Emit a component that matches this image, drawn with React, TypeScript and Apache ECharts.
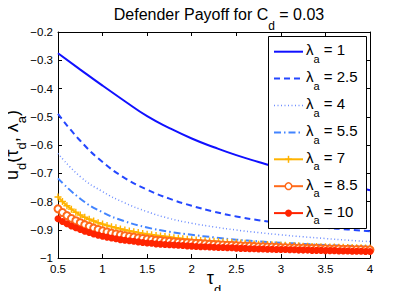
import React, { useEffect, useRef } from "react";
import * as echarts from "echarts";

const tauCoarse = [0.5, 0.75, 1.0, 1.25, 1.5, 1.75, 2.0, 2.25, 2.5, 2.75, 3.0, 3.25, 3.5, 3.75, 4.0];

const lambda1 = [-0.275, -0.333, -0.39, -0.445, -0.498, -0.54, -0.577, -0.608, -0.636, -0.66, -0.683, -0.703, -0.722, -0.741, -0.76];
const lambda25 = [-0.49, -0.585, -0.66, -0.717, -0.758, -0.79, -0.815, -0.836, -0.853, -0.866, -0.877, -0.886, -0.893, -0.899, -0.905];
const lambda4 = [-0.63, -0.712, -0.765, -0.805, -0.836, -0.86, -0.877, -0.89, -0.901, -0.91, -0.918, -0.925, -0.931, -0.937, -0.942];
const lambda55 = [-0.718, -0.79, -0.838, -0.87, -0.892, -0.907, -0.918, -0.927, -0.935, -0.941, -0.946, -0.95, -0.954, -0.957, -0.96];

const tauFine = [
  0.5, 0.55, 0.6, 0.65, 0.7, 0.75, 0.8, 0.85, 0.9, 0.95,
  1.0, 1.05, 1.1, 1.15, 1.2, 1.25, 1.3, 1.35, 1.4, 1.45,
  1.5, 1.55, 1.6, 1.65, 1.7, 1.75, 1.8, 1.85, 1.9, 1.95,
  2.0, 2.05, 2.1, 2.15, 2.2, 2.25, 2.3, 2.35, 2.4, 2.45,
  2.5, 2.55, 2.6, 2.65, 2.7, 2.75, 2.8, 2.85, 2.9, 2.95,
  3.0, 3.05, 3.1, 3.15, 3.2, 3.25, 3.3, 3.35, 3.4, 3.45,
  3.5, 3.55, 3.6, 3.65, 3.7, 3.75, 3.8, 3.85, 3.9, 3.95,
  4.0,
];

const lambda7 = [
  -0.784, -0.8, -0.815, -0.827, -0.838, -0.848, -0.856, -0.863, -0.869, -0.875,
  -0.88, -0.885, -0.889, -0.893, -0.897, -0.901, -0.904, -0.907, -0.91, -0.913,
  -0.916, -0.918, -0.92, -0.922, -0.924, -0.926, -0.928, -0.93, -0.932, -0.934,
  -0.935, -0.936, -0.938, -0.939, -0.94, -0.941, -0.942, -0.943, -0.944, -0.945,
  -0.946, -0.947, -0.948, -0.949, -0.95, -0.951, -0.951, -0.952, -0.953, -0.954,
  -0.955, -0.955, -0.956, -0.957, -0.957, -0.958, -0.958, -0.959, -0.959, -0.96,
  -0.96, -0.961, -0.961, -0.962, -0.962, -0.963, -0.963, -0.964, -0.964, -0.965,
  -0.965,
];

const lambda85 = [
  -0.826, -0.839, -0.85, -0.86, -0.868, -0.875, -0.882, -0.888, -0.894, -0.899,
  -0.904, -0.908, -0.912, -0.915, -0.918, -0.921, -0.924, -0.926, -0.929, -0.931,
  -0.933, -0.935, -0.937, -0.938, -0.94, -0.941, -0.943, -0.944, -0.945, -0.946,
  -0.947, -0.948, -0.949, -0.95, -0.951, -0.952, -0.953, -0.954, -0.955, -0.955,
  -0.956, -0.957, -0.958, -0.958, -0.959, -0.96, -0.96, -0.961, -0.961, -0.962,
  -0.963, -0.963, -0.964, -0.964, -0.965, -0.965, -0.966, -0.966, -0.966, -0.967,
  -0.967, -0.968, -0.968, -0.968, -0.969, -0.969, -0.97, -0.97, -0.97, -0.971,
  -0.971,
];

const lambda10 = [
  -0.861, -0.871, -0.879, -0.887, -0.893, -0.899, -0.905, -0.91, -0.915, -0.919,
  -0.923, -0.926, -0.929, -0.932, -0.935, -0.937, -0.939, -0.941, -0.943, -0.945,
  -0.947, -0.948, -0.95, -0.951, -0.952, -0.953, -0.954, -0.955, -0.956, -0.957,
  -0.958, -0.959, -0.96, -0.96, -0.961, -0.962, -0.963, -0.963, -0.964, -0.964,
  -0.965, -0.966, -0.966, -0.967, -0.967, -0.968, -0.968, -0.969, -0.969, -0.97,
  -0.97, -0.97, -0.971, -0.971, -0.972, -0.972, -0.972, -0.973, -0.973, -0.973,
  -0.974, -0.974, -0.974, -0.975, -0.975, -0.975, -0.976, -0.976, -0.976, -0.977,
  -0.977,
];

const lambdaLabels = ["1", "2.5", "4", "5.5", "7", "8.5", "10"];

const FONT = "Liberation Sans, Arial, Helvetica, sans-serif";

export default function App() {
  const ref = useRef<HTMLDivElement>(null);

  useEffect(() => {
    if (!ref.current) return;
    const chart = echarts.init(ref.current, undefined, { renderer: "svg" });

    const pair = (xs: number[], ys: number[]) => xs.map((x, i) => [x, ys[i]]);
    const plusPath = "path://M4,0h2v4h4v2h-4v4h-2v-4h-4v-2h4z";

    const colors = ["#1010ff", "#2447ff", "#6d8dff", "#4284ff", "#ffb300", "#ff6a1a", "#ff2400"];
    const widths = [2, 2, 1.5, 2, 2, 2, 2];
    const dashes: any[] = [null, [6, 4], [1, 2.5], [7, 3, 1.5, 3], null, null, null];
    const markers = ["none", "none", "none", "none", "plus", "ring", "dot"];

    const lineBase = { type: "line", smooth: true, symbol: "none", showSymbol: false };

    const series: any[] = [
      { ...lineBase, name: "λ1", data: pair(tauCoarse, lambda1) },
      { ...lineBase, name: "λ2.5", data: pair(tauCoarse, lambda25) },
      { ...lineBase, name: "λ4", data: pair(tauCoarse, lambda4) },
      { ...lineBase, name: "λ5.5", data: pair(tauCoarse, lambda55) },
      { type: "line", name: "λ7", data: pair(tauFine, lambda7), symbol: plusPath, symbolSize: 7, showSymbol: true, itemStyle: { color: colors[4] } },
      { type: "line", name: "λ8.5", data: pair(tauFine, lambda85), symbol: "emptyCircle", symbolSize: 7, showSymbol: true, itemStyle: { color: colors[5], borderColor: colors[5], borderWidth: 1.5 } },
      { type: "line", name: "λ10", data: pair(tauFine, lambda10), symbol: "circle", symbolSize: 7, showSymbol: true, itemStyle: { color: colors[6] } },
    ];
    series.forEach((s, i) => {
      s.lineStyle = { color: colors[i], width: widths[i], type: dashes[i] || "solid" };
      if (!s.itemStyle) s.itemStyle = { color: colors[i] };
    });

    const mainTok = (size: number, lh: number) => ({
      fontFamily: FONT, fontSize: size, fontWeight: "normal", color: "#000", lineHeight: lh, verticalAlign: "top",
    });
    const subTok = (size: number, drop: number) => ({
      fontFamily: FONT, fontSize: size, fontWeight: "normal", color: "#000", lineHeight: 1, padding: [drop, 0, 0, 0], verticalAlign: "top",
    });

    // legend drawn as graphic
    const lgLeft = 268, lgTop = 36, lgW = 99, lgH = 193;
    const row0 = 51.7, rowStep = 26.9;
    const legendEls: any[] = [
      { type: "rect", shape: { x: lgLeft + 0.5, y: lgTop + 0.5, width: lgW - 1, height: lgH - 1 }, style: { fill: "#fff", stroke: "#000", lineWidth: 1 }, z: 100 },
    ];
    lambdaLabels.forEach((lab, i) => {
      const yc = row0 + i * rowStep;
      legendEls.push({
        type: "line", shape: { x1: 274, y1: yc, x2: 303, y2: yc },
        style: { stroke: colors[i], lineWidth: widths[i], lineDash: dashes[i] || null }, z: 101,
      });
      const mx = 288.5;
      if (markers[i] === "plus") {
        legendEls.push({ type: "line", shape: { x1: mx - 3.5, y1: yc, x2: mx + 3.5, y2: yc }, style: { stroke: colors[i], lineWidth: 1.5 }, z: 102 });
        legendEls.push({ type: "line", shape: { x1: mx, y1: yc - 3.5, x2: mx, y2: yc + 3.5 }, style: { stroke: colors[i], lineWidth: 1.5 }, z: 102 });
      } else if (markers[i] === "ring") {
        legendEls.push({ type: "circle", shape: { cx: mx, cy: yc, r: 3.3 }, style: { fill: "#fff", stroke: colors[i], lineWidth: 1.5 }, z: 102 });
      } else if (markers[i] === "dot") {
        legendEls.push({ type: "circle", shape: { cx: mx, cy: yc, r: 3.5 }, style: { fill: colors[i] }, z: 102 });
      }
      legendEls.push({
        type: "text", x: 306, y: yc - 9.4, z: 102,
        style: {
          text: `{l|λ}{s|a}{l| = ${lab}}`,
          verticalAlign: "top",
          align: "left",
          rich: { l: mainTok(15, 17.4), s: subTok(11, 11) },
        },
      });
    });

    const axisCommon = {
      axisLine: { show: true, lineStyle: { color: "#000", width: 1 } },
      axisTick: { show: true, inside: true, length: 4, lineStyle: { color: "#000" } },
      splitLine: { show: false },
    };

    chart.setOption({
      animation: false,
      backgroundColor: "#fff",
      title: {
        text: "{t|Defender Payoff for C}{s|d}{t| = 0.03}",
        left: 214,
        top: 1,
        textAlign: "center",
        textStyle: {
          fontWeight: "normal",
          rich: { t: mainTok(16, 18), s: subTok(12, 14) },
        },
      },
      grid: { left: 58, right: 39, top: 32, bottom: 41, containLabel: false, outerBoundsMode: "none" },
      xAxis: [
        {
          type: "value", min: 0.5, max: 4, interval: 0.5, ...axisCommon,
          axisLabel: { color: "#000", fontFamily: FONT, fontSize: 11.5, margin: 5 },
          name: "{a|τ}{b|d}",
          nameLocation: "middle",
          nameGap: 11,
          nameMoveOverlap: false,
          nameTextStyle: { rich: { a: mainTok(18, 20), b: subTok(13, 14.3) } },
        },
        {
          type: "value", min: 0.5, max: 4, interval: 0.5, position: "top", ...axisCommon,
          axisLabel: { show: false },
        },
      ],
      yAxis: [
        {
          type: "value", min: -1, max: -0.2, interval: 0.1, ...axisCommon,
          axisLabel: {
            color: "#000", fontFamily: FONT, fontSize: 11.5, margin: 5,
            formatter: (v: number) => String(Math.round(v * 10) / 10).replace("-", "−"),
          },
          name: "{a|u}{b|d}{a|(τ}{b|d}{a|, λ}{b|a}{a|)}",
          nameLocation: "middle",
          nameRotate: 90,
          nameGap: 35.5,
          nameMoveOverlap: false,
          nameTextStyle: { rich: { a: mainTok(18, 20), b: subTok(13, 12.7) } },
        },
        {
          type: "value", min: -1, max: -0.2, interval: 0.1, position: "right", ...axisCommon,
          axisLabel: { show: false },
        },
      ],
      graphic: legendEls,
      series,
    });

    return () => chart.dispose();
  }, []);

  return <div ref={ref} style={{ width: 409, height: 299, margin: -8 }} />;
}
